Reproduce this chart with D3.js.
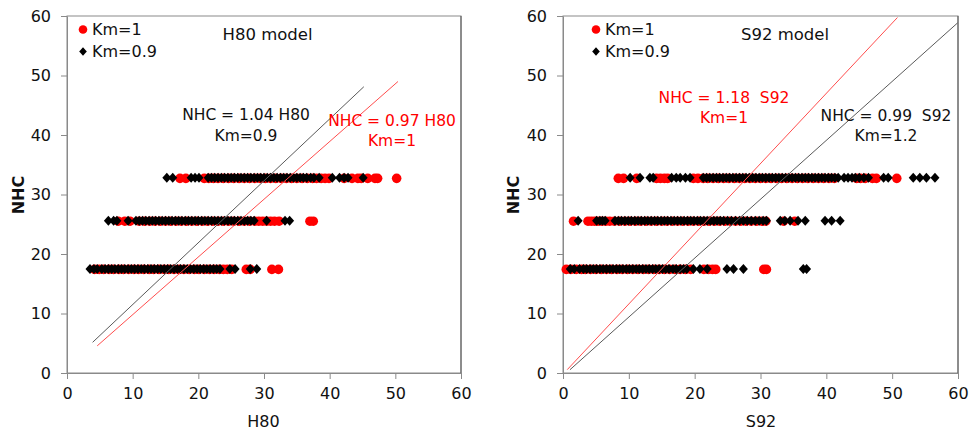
<!DOCTYPE html>
<html>
<head>
<meta charset="utf-8">
<script src="https://cdn.jsdelivr.net/npm/d3@7"></script>
<style>
  body { margin: 0; background: #fff; }
  text { font-family: "DejaVu Sans", Verdana, sans-serif; }
</style>
</head>
<body>
<svg id="chart" width="973" height="434"></svg>
<script>
// NHC levels shared by both models (one row of points per level)
const nhcLevels = [17.5, 25.6, 32.8];
const axisTicks = [0, 10, 20, 30, 40, 50, 60];

// H80 model predictions, one list per NHC level (low, mid, high)
const h80Km1 = [
  [4.2, 4.9, 5.6, 6.4, 7.1, 7.9, 8.6, 9.4, 10.2, 10.9, 11.7, 12.5, 13.2, 14.0, 14.8, 15.5, 16.3, 17.1, 17.8, 18.6, 19.4, 20.1, 20.9, 21.7, 22.4, 23.2, 23.8, 24.4, 25.1, 27.3, 27.9, 31.2, 32.2],
  [7.8, 8.8, 9.6, 11.0, 11.8, 12.6, 13.4, 14.2, 15.0, 15.8, 16.6, 17.4, 18.2, 19.0, 19.8, 20.6, 21.4, 22.2, 23.0, 23.8, 24.6, 25.4, 26.2, 27.0, 27.8, 28.6, 29.2, 29.8, 30.4, 31.0, 31.6, 32.3, 37.0, 37.5],
  [17.2, 18.1, 20.9, 21.6, 22.3, 23.0, 23.8, 24.6, 25.4, 26.2, 27.0, 27.8, 28.6, 29.4, 30.2, 31.0, 31.8, 32.6, 33.4, 34.2, 35.0, 35.8, 36.6, 37.4, 38.0, 38.7, 39.3, 39.9, 42.2, 43.4, 44.3, 44.8, 45.8, 46.9, 47.3, 50.2]
];
const h80Km09 = [
  [3.5, 4.1, 4.6, 5.3, 5.8, 6.3, 6.8, 7.3, 7.8, 8.3, 8.8, 9.3, 9.8, 10.3, 10.8, 11.3, 11.8, 12.3, 12.8, 13.3, 13.8, 14.3, 14.8, 15.3, 15.8, 16.3, 16.8, 17.3, 17.8, 18.3, 18.8, 19.3, 19.8, 20.3, 20.8, 21.3, 21.8, 22.3, 22.8, 23.3, 24.8, 25.6, 27.9, 28.9],
  [6.3, 7.1, 7.6, 9.3, 10.5, 11.0, 11.5, 12.0, 12.5, 13.0, 13.5, 14.0, 14.5, 15.0, 15.5, 16.0, 16.5, 17.0, 17.5, 18.0, 18.5, 19.0, 19.5, 20.0, 20.5, 21.0, 21.5, 22.0, 22.5, 23.0, 23.5, 24.0, 24.5, 25.0, 25.5, 26.0, 26.5, 27.0, 27.5, 28.0, 28.5, 30.4, 33.2, 33.9],
  [15.2, 16.1, 18.9, 19.5, 20.1, 21.5, 22.0, 22.5, 23.0, 23.5, 24.0, 24.5, 25.0, 25.5, 26.0, 26.5, 27.0, 27.5, 28.0, 28.5, 29.0, 29.5, 30.0, 30.5, 31.0, 31.5, 32.0, 32.5, 33.0, 33.5, 34.0, 34.5, 35.0, 35.5, 36.0, 36.5, 37.1, 37.6, 38.4, 40.4, 41.5, 42.2, 42.8, 45.1]
];

// S92 model predictions, one list per NHC level (low, mid, high)
const s92Km1 = [
  [0.5, 1.2, 2.0, 2.8, 3.4, 4.2, 5.0, 5.8, 6.6, 7.4, 8.2, 9.0, 9.8, 10.6, 11.4, 12.2, 13.0, 13.8, 14.6, 15.4, 16.2, 17.0, 17.8, 18.6, 19.4, 21.4, 22.1, 22.7, 23.2, 30.5, 30.9],
  [1.6, 3.8, 4.3, 4.8, 5.3, 5.9, 6.5, 7.1, 7.8, 8.6, 9.4, 10.2, 11.0, 11.8, 12.6, 13.4, 14.2, 15.0, 15.8, 16.6, 17.4, 18.2, 19.0, 19.8, 20.6, 21.4, 22.2, 23.0, 23.8, 24.6, 25.4, 26.2, 27.0, 27.8, 28.6, 29.4, 30.2, 30.8, 33.5, 35.2],
  [8.4, 9.2, 11.2, 14.2, 14.8, 15.4, 15.9, 19.8, 20.5, 21.3, 22.0, 22.8, 23.6, 24.4, 25.2, 26.0, 26.8, 27.6, 28.4, 29.2, 30.0, 30.8, 31.6, 32.4, 33.2, 34.0, 34.8, 35.6, 36.4, 37.2, 38.0, 38.8, 39.6, 40.4, 41.2, 44.6, 45.2, 45.9, 47.0, 47.6, 50.7]
];
const s92Km09 = [
  [1.1, 1.7, 2.5, 3.1, 3.6, 4.1, 4.6, 5.1, 5.6, 6.1, 6.6, 7.1, 7.6, 8.1, 8.6, 9.1, 9.6, 10.1, 10.6, 11.1, 11.6, 12.1, 12.6, 13.1, 13.6, 14.1, 14.6, 15.1, 15.6, 16.1, 16.7, 17.2, 17.8, 18.3, 18.8, 19.8, 20.8, 21.9, 24.9, 25.9, 27.4, 36.5, 37.0],
  [2.3, 5.1, 5.6, 6.0, 6.4, 7.9, 8.4, 8.9, 9.4, 9.9, 10.4, 10.9, 11.4, 11.9, 12.4, 12.9, 13.4, 13.9, 14.4, 14.9, 15.4, 15.9, 16.4, 16.9, 17.4, 17.9, 18.4, 18.9, 19.4, 19.9, 20.4, 20.9, 21.4, 21.9, 22.4, 22.9, 23.4, 23.9, 24.4, 25.0, 25.6, 26.2, 26.8, 27.4, 28.0, 28.6, 29.2, 29.8, 30.4, 30.9, 33.0, 33.7, 34.5, 35.7, 36.8, 39.8, 40.8, 42.1],
  [10.2, 11.7, 13.2, 13.7, 16.5, 17.2, 17.8, 18.6, 19.3, 21.3, 21.8, 22.3, 22.8, 23.3, 23.8, 24.3, 24.8, 25.3, 25.8, 26.3, 26.8, 27.3, 27.8, 28.3, 28.8, 29.3, 29.8, 30.3, 30.8, 31.3, 31.8, 32.3, 32.8, 33.3, 33.8, 34.3, 34.8, 35.3, 35.8, 36.3, 36.8, 37.3, 37.8, 38.3, 38.8, 39.3, 39.8, 40.3, 40.8, 41.3, 41.8, 42.7, 43.3, 43.9, 44.4, 45.0, 45.7, 46.4, 48.7, 49.4, 53.2, 54.2, 55.2, 56.5]
];

// Fitted lines NHC = slope * model (+ small offset); index 0: Km=1, index 1: second fit
const h80FitSlope = [0.97, 1.04];
const h80FitOffset = [0.1, 1.1];
const h80FitFrom = [4.6, 3.9];
const h80FitTo = [50.4, 45.2];
const s92FitSlope = [1.18, 0.99];
const s92FitOffset = [-0.2, -0.5];
const s92FitFrom = [0.65, 1.06];
const s92FitTo = [50.8, 59.95];

const seriesNames = ["Km=1", "Km=0.9"];
const h80EquationText = [["NHC = 0.97 H80", "Km=1"], ["NHC = 1.04 H80", "Km=0.9"]];
const s92EquationText = [["NHC = 1.18  S92", "Km=1"], ["NHC = 0.99  S92", "Km=1.2"]];

const RED = "#ff0000";
const BLACK = "#000000";

const panels = [
  {
    title: "H80 model", xName: "H80",
    km1: h80Km1, km09: h80Km09,
    slope: h80FitSlope, offset: h80FitOffset, from: h80FitFrom, to: h80FitTo,
    eq: h80EquationText,
    left: 67, right: 461,
    legendX: 83, titleX: 267.5, yTitleX: 18, xTitleX: 263.5,
    eqPos: [[392, 120, 140], [246, 114.5, 135]]
  },
  {
    title: "S92 model", xName: "S92",
    km1: s92Km1, km09: s92Km09,
    slope: s92FitSlope, offset: s92FitOffset, from: s92FitFrom, to: s92FitTo,
    eq: s92EquationText,
    left: 563, right: 958,
    legendX: 596, titleX: 785, yTitleX: 513, xTitleX: 761,
    eqPos: [[724, 97, 117.5], [886, 115, 135]]
  }
];

const plotTop = 16, plotBottom = 373;
const svg = d3.select("#chart");
const diamond = "M0,-5L4.5,0L0,5L-4.5,0Z";

panels.forEach(p => {
  const x = d3.scaleLinear().domain([0, 60]).range([p.left, p.right]);
  const y = d3.scaleLinear().domain([0, 60]).range([plotBottom, plotTop]);
  const g = svg.append("g");

  // plot frame
  g.append("rect")
    .attr("x", p.left).attr("y", plotTop)
    .attr("width", p.right - p.left).attr("height", plotBottom - plotTop)
    .attr("fill", "none").attr("stroke", "#8a8a8a").attr("stroke-width", 1);
  g.append("line")
    .attr("x1", p.right).attr("x2", p.right).attr("y1", plotTop).attr("y2", plotBottom)
    .attr("stroke", "#555").attr("stroke-width", 1);

  // axes
  const ya = g.append("g").attr("transform", `translate(${p.left},0)`)
    .call(d3.axisLeft(y).tickValues(axisTicks).tickSize(6).tickPadding(10).tickSizeOuter(0));
  const xa = g.append("g").attr("transform", `translate(0,${plotBottom})`)
    .call(d3.axisBottom(x).tickValues(axisTicks).tickSize(6).tickPadding(9).tickSizeOuter(0));
  [ya, xa].forEach(a => {
    a.select(".domain").attr("stroke", "#8a8a8a");
    a.selectAll(".tick line").attr("stroke", "#8a8a8a");
    a.selectAll(".tick text")
      .attr("font-family", "DejaVu Sans, Verdana, sans-serif")
      .attr("font-size", 16).attr("fill", "#111");
  });

  // points: red circles underneath, black diamonds on top
  const redPts = [], blackPts = [];
  nhcLevels.forEach((lv, i) => {
    p.km1[i].forEach(v => redPts.push([v, lv]));
    p.km09[i].forEach(v => blackPts.push([v, lv]));
  });
  g.append("g").selectAll("circle").data(redPts).join("circle")
    .attr("cx", d => x(d[0])).attr("cy", d => y(d[1]) + 0.5)
    .attr("r", 4.8).attr("fill", RED);
  g.append("g").selectAll("path").data(blackPts).join("path")
    .attr("transform", d => `translate(${x(d[0])},${y(d[1])})`)
    .attr("d", diamond).attr("fill", BLACK);

  // fitted lines
  const lineColors = ["#ff4d4d", "#5a5a5a"];
  [0, 1].forEach(k => {
    const f = v => p.slope[k] * v + p.offset[k];
    g.append("line")
      .attr("x1", x(p.from[k])).attr("y1", y(f(p.from[k])))
      .attr("x2", x(p.to[k])).attr("y2", y(f(p.to[k])))
      .attr("stroke", lineColors[k]).attr("stroke-width", 1);
  });

  // equation labels
  const eqColors = [RED, "#111"];
  [0, 1].forEach(k => {
    const pos = p.eqPos[k];
    p.eq[k].forEach((t, j) => {
      g.append("text")
        .attr("x", pos[0]).attr("y", pos[1 + j])
        .attr("dy", "0.36em")
        .attr("text-anchor", "middle")
        .style("white-space", "pre")
        .attr("font-size", 15.5)
        .attr("fill", eqColors[k])
        .text(t);
    });
  });

  // legend
  g.append("circle").attr("cx", p.legendX).attr("cy", 29.5).attr("r", 4.3).attr("fill", RED);
  g.append("path").attr("transform", `translate(${p.legendX},51.5)`)
    .attr("d", "M0,-4.2L3.8,0L0,4.2L-3.8,0Z").attr("fill", BLACK);
  seriesNames.forEach((n, j) => {
    g.append("text").attr("x", p.legendX + 9).attr("y", j === 0 ? 29.5 : 51.5)
      .attr("dy", "0.36em").attr("font-size", 16).attr("fill", "#111").text(n);
  });

  // panel title
  g.append("text").attr("x", p.titleX).attr("y", 34.3).attr("dy", "0.36em")
    .attr("text-anchor", "middle").attr("font-size", 16.5).attr("fill", "#111").text(p.title);

  // axis titles
  g.append("text").attr("x", p.xTitleX).attr("y", 421).attr("dy", "0.36em")
    .attr("text-anchor", "middle").attr("font-size", 16).attr("fill", "#111").text(p.xName);
  g.append("text")
    .attr("transform", `translate(${p.yTitleX},195) rotate(-90)`)
    .attr("dy", "0.36em").attr("text-anchor", "middle")
    .attr("font-size", 16).attr("font-weight", "bold").attr("fill", "#111").text("NHC");
});
</script>
</body>
</html>
